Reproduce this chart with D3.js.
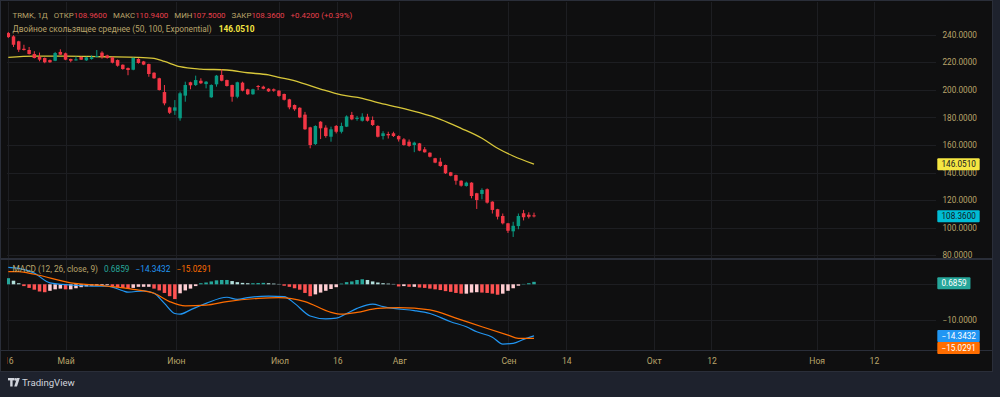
<!DOCTYPE html>
<html><head><meta charset="utf-8">
<script src="https://cdn.jsdelivr.net/npm/d3@7"></script>
<style>body{margin:0;background:#1e222d;overflow:hidden}svg{display:block}</style>
</head><body><svg id="c" width="1000" height="397"></svg>
<script>
// ---------------- DATA ----------------
const openV  = [241.2,238.8,235.2,229.8,228.9,226.0,224.0,223.1,221.6,221.1,227.5,226.5,222.4,221.6,223.8,221.4,222.4,224.0,227.0,225.0,
                223.6,221.6,218.2,215.8,214.6,222.4,220.6,218.7,212.4,208.4,198.4,187.3,184.9,179.4,195.8,205.5,203.5,206.6,204.2,194.6,
                204.0,210.8,207.1,203.5,195.0,205.2,200.4,196.8,202.8,202.3,200.8,200.4,199.4,197.0,193.1,189.0,187.0,182.0,172.8,160.7,
                176.9,172.6,166.0,173.8,169.6,173.3,181.8,178.9,177.6,180.5,178.1,173.8,166.5,168.0,168.5,166.5,164.1,162.4,160.0,161.2,
                156.9,154.4,150.4,147.9,145.5,140.2,138.2,134.1,130.3,132.7,125.0,124.5,127.9,118.9,113.4,108.5,103.2,97.4,101.2,110.5,
                109.4,108.96];
const highV  = [242.0,239.6,235.6,232.7,231.1,228.0,227.0,223.5,222.0,227.5,229.4,227.0,222.6,224.2,224.2,224.0,225.0,228.9,228.0,225.5,
                224.0,222.0,218.5,216.2,223.5,223.0,221.0,219.0,212.8,208.8,203.5,187.8,192.6,198.7,205.9,205.9,210.3,208.4,206.4,204.0,
                210.8,214.9,207.4,203.8,205.9,205.9,200.8,200.8,203.5,203.0,201.2,201.0,199.8,197.3,193.5,189.4,187.4,184.0,173.2,174.3,
                177.3,174.3,173.3,174.5,176.2,181.5,184.0,181.1,183.0,182.6,180.7,174.3,170.0,169.6,169.6,167.0,165.0,164.0,162.4,161.5,
                158.5,154.7,150.7,150.7,145.8,140.5,138.5,134.4,133.4,133.0,125.3,128.6,128.5,119.2,113.7,110.3,103.5,104.3,110.3,112.9,
                111.2,110.94];
const lowV   = [237.6,231.1,227.5,228.5,225.6,222.8,220.7,219.3,219.6,220.8,225.3,221.5,220.0,221.2,221.7,221.0,221.9,223.5,222.6,222.6,
                219.2,216.8,214.6,210.6,214.2,219.0,217.9,209.5,208.0,199.5,188.8,182.5,181.8,177.6,191.4,200.4,202.8,204.2,201.1,194.2,
                202.3,206.2,202.4,191.4,193.9,198.9,196.4,196.4,199.9,200.4,198.5,198.6,195.0,192.3,185.9,184.8,179.5,171.0,157.6,160.0,
                164.3,165.3,162.4,168.4,168.4,173.0,178.0,177.6,177.0,177.0,173.8,165.5,164.0,164.7,165.8,162.5,159.5,158.7,154.8,155.5,
                154.5,151.0,146.8,144.2,139.0,137.3,131.2,129.8,129.8,121.3,113.6,120.6,117.5,110.3,106.0,102.4,96.2,93.3,98.9,105.3,
                106.7,107.5];
const closeV = [238.3,232.7,229.1,228.9,226.0,223.1,221.9,220.0,220.0,226.7,225.5,221.9,221.1,222.1,221.9,223.6,223.6,224.6,224.0,223.1,
                219.7,217.5,215.1,214.4,223.1,219.5,218.3,211.5,208.4,199.9,190.2,183.4,187.3,197.5,203.5,203.3,207.1,204.8,205.9,203.5,
                210.3,206.6,202.8,195.0,205.5,199.4,196.8,200.4,202.1,200.8,198.9,199.4,195.6,192.8,187.3,185.9,180.0,171.4,160.0,173.8,
                172.1,166.5,171.4,169.6,173.8,180.7,178.6,179.7,180.5,177.6,174.5,166.0,168.5,167.0,166.5,164.1,160.0,159.3,161.7,155.9,
                154.7,151.5,147.2,144.8,139.5,137.7,134.1,130.5,132.7,123.0,120.1,127.4,118.2,112.9,108.0,103.2,97.8,101.4,108.5,107.6,
                107.94,108.36];

// Double EMA line, read at bar indices
const emaIdx = [0,5,11,18,25,28,30,33,37,42,46,50,52,56,60,64,68,71,75,79,83,87,91,94,97,101];
const emaVal = [223.6,224.5,224.5,224.0,223.6,222.9,220.6,216.8,215.1,214.4,212.4,210.8,209.1,205.5,200.6,196.3,193.9,190.7,187.3,183.4,178.6,172.1,164.9,157.6,152.0,146.05];

// MACD (blue) and signal (orange) read at bar indices
const macdIdx = [0,2,5,8,12,16,19,22,23,26,28,30,32,33,35,38,42,44,46,50,53,55,58,61,63,65,67,70,72,74,78,81,85,88,90,93,95,97,99,101];
const macdVal = [4.7,4.4,3.1,0.4,-0.2,-0.5,-0.5,-1.8,-2.2,-1.8,-2.5,-5.3,-8.1,-8.3,-7.1,-5.3,-3.6,-4.2,-3.7,-3.3,-3.4,-5.3,-8.8,-9.6,-9.4,-8.1,-6.7,-5.5,-6.2,-6.7,-7.3,-8.1,-10.4,-11.8,-13.2,-14.7,-16.6,-16.4,-15.3,-14.3432];
const sigIdx  = [0,2,5,12,19,24,28,31,34,38,42,48,52,57,62,64,67,71,75,81,86,91,96,98,101];
const sigVal  = [3.5,3.5,2.8,0.4,-0.5,-1.4,-2.5,-4.8,-6.0,-5.8,-4.8,-3.9,-3.7,-4.8,-7.8,-8.3,-7.8,-6.7,-6.5,-7.1,-9.4,-11.8,-14.1,-15.0,-15.0291];
const histVal = [1.7,1.0,0.3,-0.5,-1.0,-1.5,-2.0,-2.2,-1.8,-1.4,-1.2,-1.4,-1.4,-1.1,-0.8,-0.6,-0.4,-0.4,-0.3,-0.2,
                 -0.5,-0.8,-1.0,-1.2,-1.0,-0.7,-0.7,-0.7,-1.2,-1.7,-2.4,-3.3,-4.1,-2.5,-1.7,-1.2,-0.5,0.3,0.5,0.8,
                 1.1,1.2,1.2,0.9,0.6,0.4,0.3,0.3,0.35,0.4,0.3,0.2,0.1,-0.4,-0.7,-1.1,-1.5,-2.4,-3.3,-2.8,
                 -2.3,-1.8,-1.3,-0.8,0.2,0.6,0.8,1.2,1.4,1.2,0.8,0.5,0.3,0.2,0.1,-0.6,-0.5,-0.7,-0.7,-0.9,
                 -1.0,-1.2,-1.4,-1.6,-1.9,-2.1,-2.4,-2.6,-2.6,-2.3,-2.2,-2.3,-2.4,-2.6,-2.9,-2.6,-1.8,-1.1,-0.4,0.1,
                 0.3,0.6859];

const priceTicks = [80,100,120,140,160,180,200,220,240];
const macdTicks = [0,-10];
const timeLabels = ["16","Май","Июн","Июл","16","Авг","Сен","14","Окт","12","Ноя","12"];
const timeIdx    = [0,11,32.2,52.1,63.2,75.1,96.1,107.2,124,135.1,155.3,166.3];

const lastClose = 108.36, emaLast = 146.051, macdLast = -14.3432, sigLast = -15.0291, histLast = 0.6859;

// ---------------- LAYOUT ----------------
const svg = d3.select('#c');
const plotL = 7, plotR = 936, mainT = 2, mainB = 258, macdT = 260, macdB = 350, axB = 371, frameR = 993;
const FONT = 'Roboto, "Liberation Sans", Arial, sans-serif';
const TXT = '#b9a46a';
const UP = '#089981', DN = '#f23645';
const BG = '#0f0f10', GRID = '#1d1e22';

const x = d3.scaleLinear().domain([0,101]).range([8.3,534]);
const yP = d3.scaleLinear().domain([80,240]).range([255.3,34.7]);
const yM = d3.scaleLinear().domain([-10,0]).range([320.3,284.3]);

// background
svg.append('rect').attr('width',1000).attr('height',397).attr('fill','#1e222d');
svg.append('rect').attr('x',0).attr('y',0).attr('width',frameR).attr('height',axB+1).attr('fill',BG);
svg.append('rect').attr('x',0.5).attr('y',0.5).attr('width',frameR-1).attr('height',axB).attr('fill','none').attr('stroke','#2a2e39');

const defs = svg.append('defs');
defs.append('clipPath').attr('id','cm').append('rect').attr('x',plotL).attr('y',mainT).attr('width',plotR-plotL).attr('height',mainB-mainT);
defs.append('clipPath').attr('id','cd').append('rect').attr('x',plotL).attr('y',macdT).attr('width',plotR-plotL).attr('height',macdB-macdT);
defs.append('clipPath').attr('id','ca').append('rect').attr('x',plotR).attr('y',mainT).attr('width',frameR-plotR).attr('height',mainB-mainT);
defs.append('clipPath').attr('id','ct').append('rect').attr('x',plotL).attr('y',macdB).attr('width',plotR-plotL).attr('height',axB-macdB);

// grids
const gm = svg.append('g').attr('clip-path','url(#cm)');
const gd = svg.append('g').attr('clip-path','url(#cd)');
[gm, gd].forEach((g,k)=>{
  g.selectAll('line.v').data(timeIdx).join('line').attr('class','v')
    .attr('x1',d=>Math.round(x(d))+0.5).attr('x2',d=>Math.round(x(d))+0.5)
    .attr('y1',k?macdT:mainT).attr('y2',k?macdB:mainB).attr('stroke',GRID);
});
gm.selectAll('line.h').data(priceTicks).join('line').attr('class','h')
  .attr('x1',plotL).attr('x2',plotR).attr('y1',d=>Math.round(yP(d))+0.5).attr('y2',d=>Math.round(yP(d))+0.5).attr('stroke',GRID);
gd.selectAll('line.h').data(macdTicks).join('line').attr('class','h')
  .attr('x1',plotL).attr('x2',plotR).attr('y1',d=>Math.round(yM(d))+0.5).attr('y2',d=>Math.round(yM(d))+0.5).attr('stroke',GRID);

// pane separators
svg.append('line').attr('x1',0).attr('x2',frameR).attr('y1',mainB+1).attr('y2',mainB+1).attr('stroke','#2a2e39').attr('stroke-width',2);
svg.append('line').attr('x1',0).attr('x2',frameR).attr('y1',macdB+0.5).attr('y2',macdB+0.5).attr('stroke','#2a2e39');

// EMA line
gm.append('path').datum(emaIdx.map((d,i)=>[d,emaVal[i]]))
  .attr('d',d3.line().x(d=>x(d[0])).y(d=>yP(d[1])).curve(d3.curveMonotoneX))
  .attr('fill','none').attr('stroke','#d8c73a').attr('stroke-width',1.3);

// candles
const candles = openV.map((o,i)=>({i,o,h:highV[i],l:lowV[i],c:closeV[i]}));
const bw = 3.5;
gm.selectAll('line.w').data(candles).join('line').attr('class','w')
  .attr('x1',d=>x(d.i)).attr('x2',d=>x(d.i)).attr('y1',d=>yP(d.h)).attr('y2',d=>yP(d.l))
  .attr('stroke',d=>d.c>=d.o?UP:DN).attr('stroke-width',1);
gm.selectAll('rect.b').data(candles).join('rect').attr('class','b')
  .attr('x',d=>x(d.i)-bw/2).attr('width',bw)
  .attr('y',d=>yP(Math.max(d.o,d.c))).attr('height',d=>Math.max(1,Math.abs(yP(d.o)-yP(d.c))))
  .attr('fill',d=>d.c>=d.o?UP:DN);

// MACD histogram
gd.selectAll('rect.hb').data(histVal).join('rect').attr('class','hb')
  .attr('x',(d,i)=>x(i)-bw/2).attr('width',bw)
  .attr('y',d=>Math.min(yM(d),yM(0))).attr('height',d=>Math.abs(yM(d)-yM(0)))
  .attr('fill',(d,i)=>{
    const p = i>0?histVal[i-1]:d;
    if (d>=0) return d>=p?'#26a69a':'#b2dfdb';
    return d<p?'#ff5252':'#ffcdd2';
  });
const mline = d3.line().x(d=>x(d[0])).y(d=>yM(d[1])).curve(d3.curveMonotoneX);
gd.append('path').datum(macdIdx.map((d,i)=>[d,macdVal[i]])).attr('d',mline).attr('fill','none').attr('stroke','#2196f3').attr('stroke-width',1.2);
gd.append('path').datum(sigIdx.map((d,i)=>[d,sigVal[i]])).attr('d',mline).attr('fill','none').attr('stroke','#ff6d00').attr('stroke-width',1.2);

// price axis
const pa = svg.append('g').attr('clip-path','url(#ca)').append('g').attr('transform','translate(938.5,0)')
  .call(d3.axisRight(yP).tickValues(priceTicks).tickSize(0).tickPadding(4).tickFormat(d3.format('.4f')));
pa.select('.domain').remove();
pa.selectAll('text').attr('fill',TXT).style('font-family',FONT).style('font-size','8.2px');
const ma = svg.append('g').attr('transform','translate(938.5,0)')
  .call(d3.axisRight(yM).tickValues([-10]).tickSize(0).tickPadding(4).tickFormat(d3.format('.4f')));
ma.select('.domain').remove();
ma.selectAll('text').attr('fill',TXT).style('font-family',FONT).style('font-size','8.2px');

// time axis
const xT = d3.scaleLinear().domain([0,101]).range([8.3,534]);
const ta = svg.append('g').attr('clip-path','url(#ct)').append('g').attr('transform',`translate(0,${macdB})`)
  .call(d3.axisBottom(xT).tickValues(timeIdx).tickSize(0).tickPadding(8).tickFormat((d,i)=>timeLabels[i]));
ta.select('.domain').remove();
ta.selectAll('text').attr('fill',TXT).style('font-family',FONT).style('font-size','8.6px');

// value tags on scales
function tag(yc, bg, fg, txt){
  const g = svg.append('g');
  const t = g.append('text').attr('x',941.5).attr('y',yc).attr('dy','0.35em').attr('fill',fg)
    .style('font-family',FONT).style('font-size','8.2px').text(txt);
  const w = t.node().getComputedTextLength();
  g.insert('rect','text').attr('x',937.3).attr('y',yc-6).attr('width',w+8).attr('height',12).attr('rx',1).attr('fill',bg);
}
tag(yP(emaLast), '#f5e642', '#131722', d3.format('.4f')(emaLast));
tag(yP(lastClose), '#00bcd4', '#131722', d3.format('.4f')(lastClose));
tag(yM(histLast)+1.5, '#26a69a', '#ffffff', d3.format('.4f')(histLast));
const ym1 = yM(macdLast);
tag(ym1, '#2196f3', '#ffffff', d3.format('.4f')(macdLast));
tag(Math.max(yM(sigLast), ym1+12), '#ff6d00', '#ffffff', d3.format('.4f')(sigLast));

// legends
function legend(yv, size, parts){
  const t = svg.append('text').attr('x',12.5).attr('y',yv).style('font-family',FONT).style('font-size',size+'px');
  parts.forEach(p=>t.append('tspan').attr('fill',p[1]).attr('dx',p[2]||0).style('font-weight',p[3]||'normal').text(p[0]));
}
const R = '#e8404d';
legend(17.8, 7.9, [["TRMK, 1Д",TXT],["ОТКР",TXT,6],[d3.format('.4f')(openV[101]),R],["МАКС",TXT,6],[d3.format('.4f')(highV[101]),R],
  ["МИН",TXT,6],[d3.format('.4f')(lowV[101]),R],["ЗАКР",TXT,6],[d3.format('.4f')(closeV[101]),R],["+0.4200 (+0.39%)",R,6]]);
legend(32, 8.3, [["Двойное скользящее среднее (50, 100, Exponential)",TXT],[d3.format('.4f')(emaLast),'#f5e642',7,'bold']]);
legend(272, 8.3, [["MACD (12, 26, close, 9)",TXT],[d3.format('.4f')(histLast),'#26a69a',6],[d3.format('.4f')(macdLast),'#2196f3',6],[d3.format('.4f')(sigLast),'#ff6d00',6]]);

// footer logo
const lg = svg.append('g').attr('fill','#d1d4dc');
lg.append('rect').attr('x',8).attr('y',378).attr('width',6.5).attr('height',2.4);
lg.append('rect').attr('x',10.2).attr('y',378).attr('width',2.4).attr('height',8.5);
lg.append('circle').attr('cx',15.8).attr('cy',379.4).attr('r',1.3);
lg.append('path').attr('d','M17,378 L19.8,378 L17,386.5 L14.2,386.5 Z');
svg.append('text').attr('x',22).attr('y',386).attr('fill','#d1d4dc').style('font-family',FONT).style('font-size','9.6px').text('TradingView');
</script></body></html>
